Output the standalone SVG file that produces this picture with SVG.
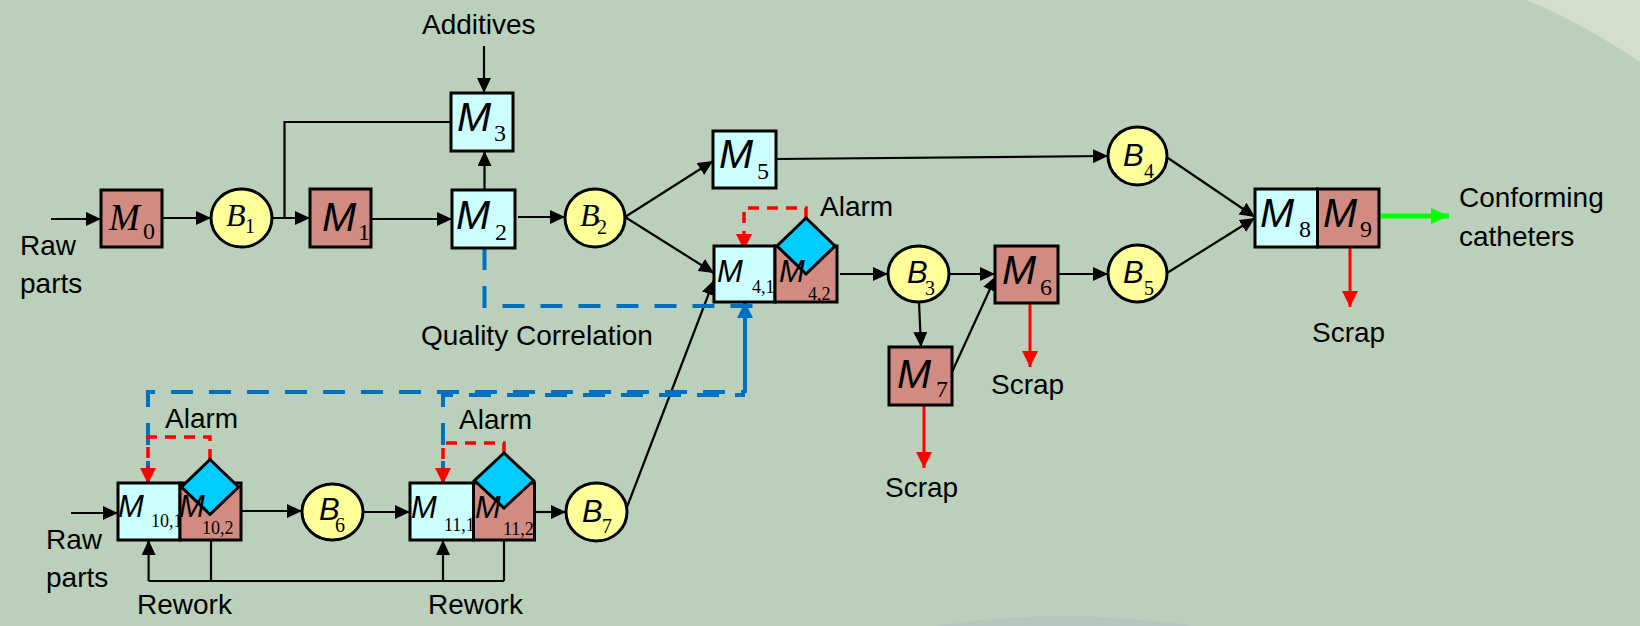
<svg xmlns="http://www.w3.org/2000/svg" width="1640" height="626" viewBox="0 0 1640 626">
<style>
.mc{fill:#ccffff;stroke:#000;stroke-width:3}
.ms{fill:#d28b80;stroke:#000;stroke-width:3}
.buf{fill:#ffff99;stroke:#000;stroke-width:3}
.dia{fill:#00ccff;stroke:#000;stroke-width:3}
.ml{font-family:"Liberation Sans",Arial,sans-serif;font-style:italic;font-size:41px;fill:#000}
.ms2{font-family:"Liberation Sans",Arial,sans-serif;font-style:italic;font-size:31px;fill:#000}
.mt{font-family:"Liberation Serif","Times New Roman",serif;font-style:italic;font-size:37px;fill:#000}
.bl{font-family:"Liberation Sans",Arial,sans-serif;font-style:italic;font-size:31px;fill:#000}
.bt{font-family:"Liberation Serif","Times New Roman",serif;font-style:italic;font-size:32px;fill:#000}
.sub{font-family:"Liberation Serif","Times New Roman",serif;font-size:24px;fill:#000}
.sb{font-family:"Liberation Serif","Times New Roman",serif;font-size:20px;fill:#000}
.ss{font-family:"Liberation Serif","Times New Roman",serif;font-size:18px;fill:#000}
.lbl{font-family:"Liberation Sans",Arial,sans-serif;font-size:28px;fill:#000}
.c{fill:none;stroke:#000;stroke-width:2.2}
.ca{fill:none;stroke:#000;stroke-width:2.2;marker-end:url(#ak)}
.r{fill:none;stroke:#ff0000;stroke-width:3;marker-end:url(#ar)}
.rd{fill:none;stroke:#ff0000;stroke-width:3.5;stroke-dasharray:11 8;marker-end:url(#ar)}
.bd{fill:none;stroke:#0070c0;stroke-width:4;stroke-dasharray:22 16}
.bs{fill:none;stroke:#0070c0;stroke-width:4;marker-end:url(#ab)}
.g{fill:none;stroke:#00ff00;stroke-width:5;marker-end:url(#ag)}
</style>
<defs>
<marker id="ak" markerUnits="userSpaceOnUse" markerWidth="15" markerHeight="14" refX="15" refY="7" orient="auto"><path d="M0,0 L15,7 L0,14 z" fill="#000"/></marker>
<marker id="ar" markerUnits="userSpaceOnUse" markerWidth="16" markerHeight="16" refX="16" refY="8" orient="auto"><path d="M0,0 L16,8 L0,16 z" fill="#ff0000"/></marker>
<marker id="ab" markerUnits="userSpaceOnUse" markerWidth="16" markerHeight="16" refX="16" refY="8" orient="auto"><path d="M0,0 L16,8 L0,16 z" fill="#0070c0"/></marker>
<marker id="ag" markerUnits="userSpaceOnUse" markerWidth="18" markerHeight="16" refX="18" refY="8" orient="auto"><path d="M0,0 L18,8 L0,16 z" fill="#00ff00"/></marker>
</defs>
<rect x="0" y="0" width="1640" height="626" fill="#bad0bb"/>
<path d="M1526,0 Q1580,22 1640,62 L1640,0 Z" fill="#d3dfcb"/>
<path d="M938,626 Q1062,606 1192,626 Z" fill="#b3c6bf"/>

<g id="connectors">
<path class="ca" d="M51,219 H101"/>
<path class="ca" d="M162,218 H211"/>
<path class="ca" d="M272,218 H310"/>
<path class="c" d="M284.5,218 V122 H451"/>
<path class="ca" d="M371,219 H452"/>
<path class="ca" d="M484,46 V93"/>
<path class="ca" d="M484.5,190 V151"/>
<path class="ca" d="M518,217 H565"/>
<path class="ca" d="M625,217 L713,161"/>
<path class="ca" d="M625,217 L714,273"/>
<path class="ca" d="M776,159 L1108,156"/>
<path class="ca" d="M840,274 H888"/>
<path class="ca" d="M949,274 H995"/>
<path class="ca" d="M919,302 L921,347"/>
<path class="ca" d="M952,372 L996,276"/>
<path class="ca" d="M1058,274 H1108"/>
<path class="ca" d="M1168,158 L1255,217"/>
<path class="ca" d="M1167,273 L1255,218"/>
<path class="g" d="M1379,216 H1449"/>
<path class="r" d="M1030,303 V367"/>
<path class="r" d="M924,405 V468"/>
<path class="r" d="M1350,247 V307"/>
<path class="ca" d="M71,513 H118"/>
<path class="ca" d="M241,511 H302"/>
<path class="ca" d="M363,512 H410"/>
<path class="ca" d="M534.5,512 H566"/>
<path class="ca" d="M627,507 L714,280"/>
<path class="c" d="M211,540 V581"/>
<path class="c" d="M148.6,581 H504"/>
<path class="ca" d="M148.6,581 V540"/>
<path class="ca" d="M443,581 V540"/>
<path class="c" d="M504,540 V581"/>
<path class="bd" d="M484.5,248 V306 H753"/>
<path class="bd" d="M148,483 V392 H745"/>
<path class="bd" d="M443,483 V395 H745"/>
<path class="bs" d="M745,393 V302"/>
<path class="rd" d="M806,218 V208 H744 V250"/>
<path class="rd" d="M210,460 V437 H148 V484"/>
<path class="rd" d="M504,453 V443 H443 V484"/>
</g>

<g id="M0"><rect class="ms" x="101" y="190" width="61" height="57"/><text class="mt" x="109" y="230">M</text><text class="sub" x="143" y="239">0</text></g>
<g id="B1"><ellipse class="buf" cx="241.5" cy="218" rx="30.5" ry="29"/><text class="bt" x="226" y="226">B</text><text class="sb" x="245" y="233">1</text></g>
<g id="M1"><rect class="ms" x="310" y="189" width="61" height="58"/><text class="ml" x="322" y="231">M</text><text class="sub" x="358" y="240">1</text></g>
<g id="M2"><rect class="mc" x="452" y="190" width="63" height="58"/><text class="ml" x="456" y="229">M</text><text class="sub" x="495" y="240">2</text></g>
<g id="M3"><rect class="mc" x="451" y="93" width="62" height="58"/><text class="ml" x="457" y="131">M</text><text class="sub" x="494" y="141">3</text></g>
<g id="B2"><ellipse class="buf" cx="595" cy="218" rx="30" ry="29"/><text class="bt" x="580" y="226">B</text><text class="sb" x="597" y="234">2</text></g>
<g id="M5"><rect class="mc" x="713" y="131" width="63" height="57"/><text class="ml" x="719" y="168">M</text><text class="sub" x="757" y="179">5</text></g>
<g id="M4"><rect class="mc" x="714" y="246" width="61" height="56"/><rect class="ms" x="775" y="246" width="62" height="56"/><polygon class="dia" points="806,218 835,246 806,274 777,246"/><text class="ms2" x="717" y="282">M</text><text class="ss" x="752" y="293">4,1</text><text class="ms2" x="779" y="282">M</text><text class="ss" x="808" y="300">4,2</text></g>
<g id="B3"><ellipse class="buf" cx="918.5" cy="274" rx="30.5" ry="28"/><text class="bl" x="907" y="283">B</text><text class="sb" x="925" y="295">3</text></g>
<g id="M6"><rect class="ms" x="995" y="246" width="63" height="57"/><text class="ml" x="1002" y="284">M</text><text class="sub" x="1040" y="295">6</text></g>
<g id="M7"><rect class="ms" x="889" y="347" width="63" height="58"/><text class="ml" x="897" y="388">M</text><text class="sub" x="936" y="397">7</text></g>
<g id="B4"><ellipse class="buf" cx="1137.5" cy="156" rx="29.5" ry="29"/><text class="bl" x="1123" y="166">B</text><text class="sb" x="1144" y="178">4</text></g>
<g id="B5"><ellipse class="buf" cx="1137.5" cy="273.5" rx="29.5" ry="28.5"/><text class="bl" x="1123" y="283">B</text><text class="sb" x="1144" y="295">5</text></g>
<g id="M8"><rect class="mc" x="1255" y="189" width="62.5" height="58"/><text class="ml" x="1260" y="227">M</text><text class="sub" x="1299" y="237">8</text></g>
<g id="M9"><rect class="ms" x="1317.5" y="189" width="61.5" height="58"/><text class="ml" x="1323" y="227">M</text><text class="sub" x="1360" y="237">9</text></g>
<g id="M10"><rect class="mc" x="118" y="483" width="62" height="57"/><rect class="ms" x="180" y="483" width="61" height="57"/><polygon class="dia" points="210,459.5 238.5,487 210,514.5 181.5,487"/><text class="ms2" x="118" y="517">M</text><text class="ss" x="151" y="527">10,1</text><text class="ms2" x="179" y="517">M</text><text class="ss" x="202" y="534">10,2</text></g>
<g id="B6"><ellipse class="buf" cx="332.5" cy="512" rx="30.5" ry="28"/><text class="bl" x="319" y="520">B</text><text class="sb" x="335" y="532">6</text></g>
<g id="M11"><rect class="mc" x="410" y="483" width="63.5" height="57"/><rect class="ms" x="473.5" y="483" width="61" height="57"/><polygon class="dia" points="504,453 533.5,480.5 504,508 474.5,480.5"/><text class="ms2" x="411" y="518">M</text><text class="ss" x="444" y="531">11,1</text><text class="ms2" x="475" y="518">M</text><text class="ss" x="503" y="535">11,2</text></g>
<g id="B7"><ellipse class="buf" cx="596.5" cy="512" rx="30.5" ry="29"/><text class="bl" x="582" y="522">B</text><text class="sb" x="602" y="533">7</text></g>

<g id="labels">
<text class="lbl" x="422" y="34">Additives</text>
<text class="lbl" x="20" y="255">Raw</text>
<text class="lbl" x="20" y="293">parts</text>
<text class="lbl" x="421" y="345">Quality Correlation</text>
<text class="lbl" x="820" y="216">Alarm</text>
<text class="lbl" x="991" y="394">Scrap</text>
<text class="lbl" x="885" y="497">Scrap</text>
<text class="lbl" x="1312" y="342">Scrap</text>
<text class="lbl" x="1459" y="207">Conforming</text>
<text class="lbl" x="1459" y="246">catheters</text>
<text class="lbl" x="46" y="549">Raw</text>
<text class="lbl" x="46" y="587">parts</text>
<text class="lbl" x="137" y="614">Rework</text>
<text class="lbl" x="428" y="614">Rework</text>
<text class="lbl" x="165" y="428">Alarm</text>
<text class="lbl" x="459" y="429">Alarm</text>
</g>
</svg>
